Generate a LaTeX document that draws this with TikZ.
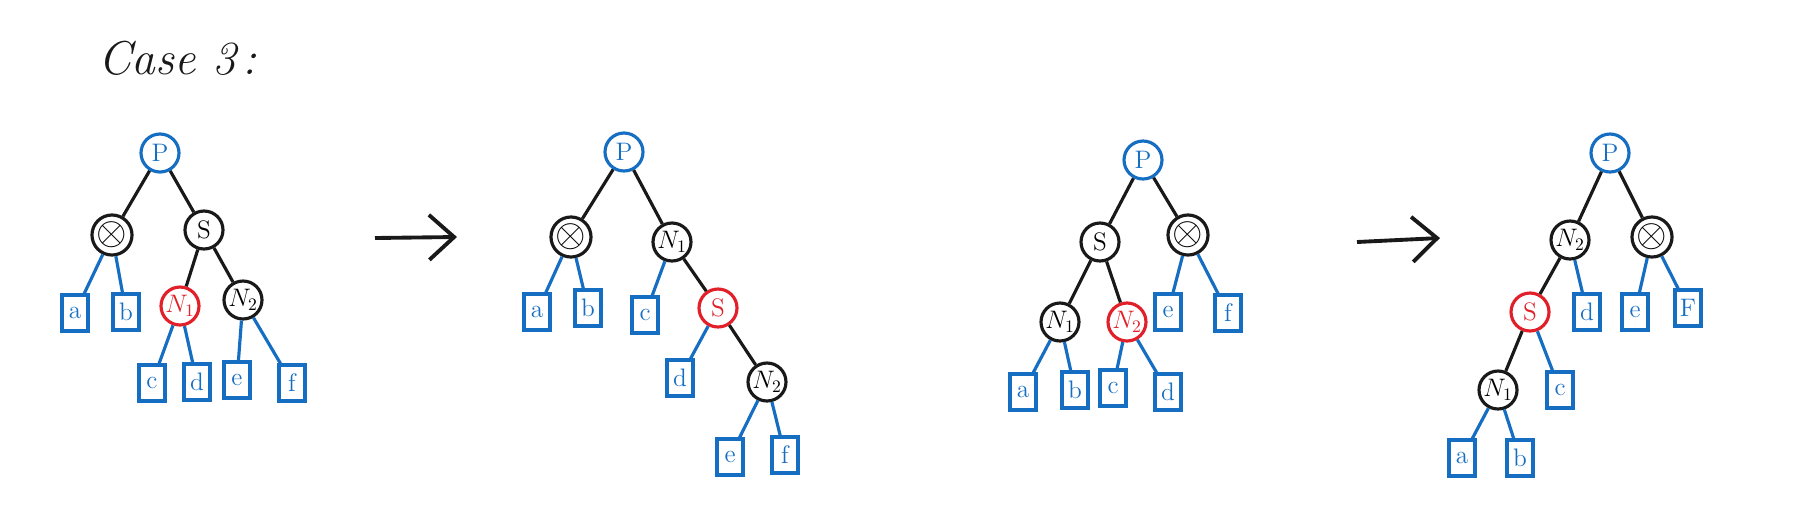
\documentclass[tikz,border=0pt]{standalone}
\usepackage{amsmath}
\usepackage{amssymb}
\usepackage{tikz}
\usetikzlibrary{arrows.meta}
\definecolor{penblue}{RGB}{22,110,195}
\definecolor{penred}{RGB}{225,32,42}
\definecolor{penblack}{RGB}{25,25,25}
\newcommand{\gone}{\scalebox{1.55}{$\otimes$}}
\tikzset{
    inner/.style={circle,draw=penblack,line width=1.8pt,minimum size=0.76cm,inner sep=0pt,font=\Large},
    root/.style={inner,draw=penblue,text=penblue},
    redn/.style={inner,draw=penred,text=penred},
    leaf/.style={rectangle,draw=penblue,text=penblue,line width=1.8pt,minimum width=0.52cm,minimum height=0.72cm,inner sep=0pt,font=\Large},
    blk/.style={draw=penblack,line width=1.8pt},
    blu/.style={draw=penblue,line width=1.8pt}
}

\begin{document}
\begin{tikzpicture}[x=0.02cm,y=-0.02cm]
\useasboundingbox (0,0) rectangle (1812,522);
\node[anchor=west,font=\fontsize{27}{32}\selectfont\itshape,text=penblack] (title) at (92,58) {Case 3\hspace{0.15em}:};

\node[root] (PA) at (160,153) {P};
\node[inner] (XA) at (112,235) {\gone};
\node[inner] (SA) at (204,230) {S};
\node[redn] (N1A) at (180,306) {$N_1$};
\node[inner] (N2A) at (243,300) {$N_2$};
\node[leaf] (aA) at (75,313) {a};
\node[leaf] (bA) at (126,312) {b};
\node[leaf] (cA) at (152,383) {c};
\node[leaf] (dA) at (197,382) {d};
\node[leaf] (eA) at (237,380) {e};
\node[leaf] (fA) at (292,383) {f};
\draw[blk] (PA) -- (XA) (PA) -- (SA) (SA) -- (N1A) (SA) -- (N2A);
\draw[blu] (XA) -- (aA) (XA) -- (bA) (N1A) -- (cA) (N1A) -- (dA) (N2A) -- (eA) (N2A) -- (fA);

\coordinate (R1) at (375,238);
\coordinate (R2) at (457,237);
\draw[blk,line width=2.2pt,-{Straight Barb[length=5mm,width=9mm]}] (R1) -- (R2);

\node[root] (PB) at (624,152) {P};
\node[inner] (XB) at (571,237) {\gone};
\node[inner] (N1B) at (672,242) {$N_1$};
\node[redn] (SB) at (718,308) {S};
\node[inner] (N2B) at (767,382) {$N_2$};
\node[leaf] (aB) at (537,312) {a};
\node[leaf] (bB) at (588,308) {b};
\node[leaf] (cB) at (645,315) {c};
\node[leaf] (dB) at (680,378) {d};
\node[leaf] (eB) at (730,457) {e};
\node[leaf] (fB) at (785,455) {f};
\draw[blk] (PB) -- (XB) (PB) -- (N1B) (N1B) -- (SB) (SB) -- (N2B);
\draw[blu] (XB) -- (aB) (XB) -- (bB) (N1B) -- (cB) (SB) -- (dB) (N2B) -- (eB) (N2B) -- (fB);

\node[root] (PC) at (1143,160) {P};
\node[inner] (SC) at (1100,242) {S};
\node[inner] (XC) at (1188,235) {\gone};
\node[inner] (N1C) at (1060,322) {$N_1$};
\node[redn] (N2C) at (1127,322) {$N_2$};
\node[leaf] (aC) at (1023,392) {a};
\node[leaf] (bC) at (1075,390) {b};
\node[leaf] (cC) at (1113,388) {c};
\node[leaf] (dC) at (1168,392) {d};
\node[leaf] (eC) at (1168,312) {e};
\node[leaf] (fC) at (1228,313) {f};
\draw[blk] (PC) -- (SC) (PC) -- (XC) (SC) -- (N1C) (SC) -- (N2C);
\draw[blu] (N1C) -- (aC) (N1C) -- (bC) (N2C) -- (cC) (N2C) -- (dC) (XC) -- (eC) (XC) -- (fC);

\coordinate (R3) at (1357,242);
\coordinate (R4) at (1440,238);
\draw[blk,line width=2.2pt,-{Straight Barb[length=5mm,width=9mm]}] (R3) -- (R4);

\node[root] (PD) at (1610,153) {P};
\node[inner] (N2D) at (1570,240) {$N_2$};
\node[inner] (XD) at (1652,237) {\gone};
\node[redn] (SD) at (1530,312) {S};
\node[inner] (N1D) at (1498,390) {$N_1$};
\node[leaf] (aD) at (1462,458) {a};
\node[leaf] (bD) at (1520,458) {b};
\node[leaf] (cD) at (1560,390) {c};
\node[leaf] (dD) at (1587,312) {d};
\node[leaf] (eD) at (1635,312) {e};
\node[leaf] (fD) at (1688,308) {F};
\draw[blk] (PD) -- (N2D) (PD) -- (XD) (N2D) -- (SD) (SD) -- (N1D);
\draw[blu] (N1D) -- (aD) (N1D) -- (bD) (SD) -- (cD) (N2D) -- (dD) (XD) -- (eD) (XD) -- (fD);
\end{tikzpicture}
\end{document}
